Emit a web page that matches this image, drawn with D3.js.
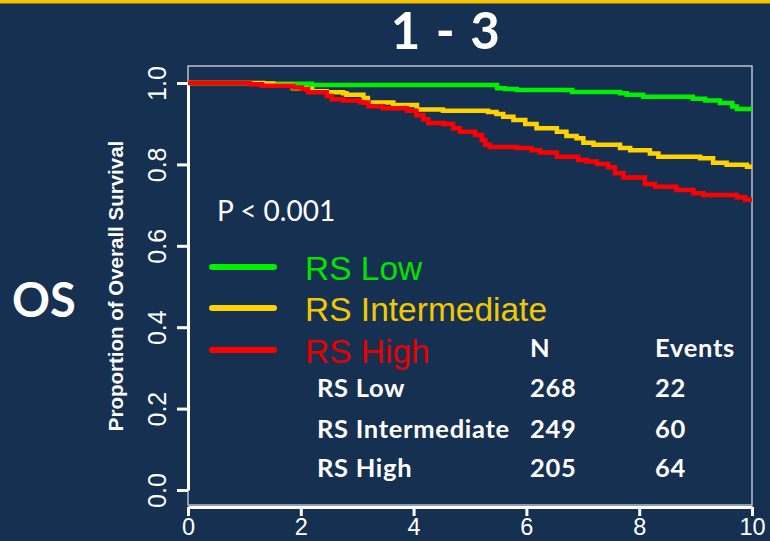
<!DOCTYPE html>
<html>
<head>
<meta charset="utf-8">
<script src="https://cdn.jsdelivr.net/npm/d3@7/dist/d3.min.js"></script>
<style>
  html, body { margin: 0; padding: 0; background: #163052; }
  svg { display: block; }
</style>
</head>
<body>
<svg id="chart" width="770" height="541"></svg>
<script>
// Kaplan-Meier overall survival, by recurrence-score group (years of follow-up)
const groups = ["RS Low", "RS Intermediate", "RS High"];
const groupColors = ["#00f000", "#ffd200", "#ff0000"];
const legendTextColors = ["#00e400", "#f2c800", "#e80000"];

const lowTime = [0, 1.1, 2.2, 5.48, 5.62, 5.83, 6.81, 7.66, 7.78, 8.07, 8.95, 9.17, 9.43, 9.65, 9.73, 10];
const lowSurv = [1, 0.998, 0.995, 0.987, 0.985, 0.983, 0.978, 0.975, 0.971, 0.966, 0.961, 0.957, 0.951, 0.942, 0.936, 0.936];

const intTime = [0, 1.33, 1.51, 1.86, 2.11, 2.2, 2.46, 2.75, 2.81, 3.11, 3.19, 3.64, 4.06, 4.52,
  5.32, 5.47, 5.59, 5.77, 5.98, 6.18, 6.54, 6.71, 6.89, 7.01, 7.19, 7.66, 7.84, 8.19, 8.34, 9.08, 9.31, 9.55, 9.91, 10];
const intSurv = [1, 0.999, 0.995, 0.987, 0.985, 0.980, 0.977, 0.975, 0.971, 0.963, 0.952, 0.946, 0.935, 0.932,
  0.929, 0.924, 0.917, 0.909, 0.899, 0.889, 0.880, 0.870, 0.864, 0.853, 0.848, 0.840, 0.835, 0.827, 0.819, 0.815, 0.804, 0.799, 0.794, 0.794];

const highTime = [0, 1.10, 1.31, 1.87, 2.02, 2.13, 2.46, 2.55, 2.75, 3.05, 3.20, 3.46, 3.88, 4.05, 4.17, 4.26, 4.53, 4.70, 4.82,
  5.09, 5.21, 5.27, 5.35, 5.83, 6.09, 6.24, 6.54, 6.92, 7.07, 7.25, 7.45, 7.57, 7.72, 8.10, 8.28, 8.66, 8.96, 9.14, 9.73, 9.88, 10];
const highSurv = [1, 0.997, 0.993, 0.989, 0.985, 0.977, 0.968, 0.960, 0.957, 0.952, 0.943, 0.938, 0.932, 0.921, 0.911, 0.902, 0.899, 0.889, 0.880,
  0.872, 0.860, 0.848, 0.843, 0.840, 0.835, 0.829, 0.819, 0.811, 0.807, 0.801, 0.793, 0.778, 0.768, 0.752, 0.745, 0.737, 0.729, 0.725, 0.719, 0.713, 0.713];

const nAtRisk = [268, 249, 205];
const events = [22, 60, 64];
const xTicks = [0, 2, 4, 6, 8, 10];
const yTicks = [0, 0.2, 0.4, 0.6, 0.8, 1.0];

const svg = d3.select("#chart");
const W = 770, H = 541;

svg.append("rect").attr("width", W).attr("height", H).attr("fill", "#163052");
svg.append("rect").attr("width", W).attr("height", 3.5).attr("fill", "#f7c200");

const x = d3.scaleLinear().domain([0, 10]).range([188, 752]);
const y = d3.scaleLinear().domain([0, 1]).range([490, 83]);

// plot frame
svg.append("rect")
  .attr("x", 188).attr("y", 66)
  .attr("width", 752 - 188).attr("height", 505 - 66)
  .attr("fill", "none").attr("stroke", "#b9c1cd").attr("stroke-width", 1.5);

// axes
const axisFont = (sel, size) => sel.attr("fill", "#fff")
  .style("font-family", "'Liberation Sans', Arial, sans-serif")
  .style("font-size", size);

const yAxis = svg.append("g")
  .attr("transform", "translate(188,0)")
  .call(d3.axisLeft(y).tickValues(yTicks).tickFormat(d3.format(".1f")).tickSize(11).tickSizeOuter(0));
yAxis.select(".domain").attr("stroke", "#fff").attr("stroke-width", 3);
yAxis.selectAll(".tick line").attr("stroke", "#fff").attr("stroke-width", 3);
yAxis.selectAll(".tick text")
  .attr("x", 0).attr("y", -22).attr("dy", 0)
  .attr("transform", "rotate(-90)")
  .attr("text-anchor", "middle")
  .call(axisFont, "25px");

const xAxis = svg.append("g")
  .attr("transform", "translate(0,507)")
  .call(d3.axisBottom(x).tickValues(xTicks).tickFormat(d3.format("d")).tickSize(9).tickSizeOuter(0));
xAxis.select(".domain").attr("stroke", "#fff").attr("stroke-width", 3);
xAxis.selectAll(".tick line").attr("stroke", "#fff").attr("stroke-width", 3);
xAxis.selectAll(".tick text")
  .attr("y", 28).attr("dy", 0)
  .call(axisFont, "23.5px");

// survival curves
const series = [
  { t: lowTime, s: lowSurv },
  { t: intTime, s: intSurv },
  { t: highTime, s: highSurv }
];
const line = d3.line()
  .x(d => x(d[0]))
  .y(d => y(d[1]))
  .curve(d3.curveStepAfter);

series.forEach((ser, i) => {
  const pts = ser.t.map((t, j) => [t, ser.s[j]]);
  svg.append("path")
    .attr("d", line(pts))
    .attr("fill", "none")
    .attr("stroke", groupColors[i])
    .attr("stroke-width", 4.5)
    .attr("stroke-linejoin", "miter");
});

// titles
svg.append("text")
  .attr("x", 446).attr("y", 49)
  .attr("text-anchor", "middle")
  .attr("fill", "#fff")
  .style("font-family", "Lato, sans-serif").style("font-weight", 700).style("font-size", "51px")
  .style("letter-spacing", "1.5px")
  .text("1 - 3");

svg.append("text")
  .attr("x", 44).attr("y", 317)
  .attr("text-anchor", "middle")
  .attr("fill", "#fff")
  .style("font-family", "Lato, sans-serif").style("font-weight", 700).style("font-size", "47px")
  .text("OS");

svg.append("text")
  .attr("transform", "translate(123,286) rotate(-90)")
  .attr("text-anchor", "middle")
  .attr("fill", "#fff")
  .style("font-family", "'Liberation Sans', Arial, sans-serif").style("font-weight", 700).style("font-size", "20.5px")
  .text("Proportion of Overall Survival");

svg.append("text")
  .attr("x", 217).attr("y", 221)
  .attr("fill", "#fff")
  .style("font-family", "Lato, sans-serif").style("font-size", "28px")
  .text("P < 0.001");

// legend
const legendY = [267, 308, 350];
groups.forEach((g, i) => {
  svg.append("line")
    .attr("x1", 212).attr("x2", 274)
    .attr("y1", legendY[i]).attr("y2", legendY[i])
    .attr("stroke", groupColors[i]).attr("stroke-width", 6).attr("stroke-linecap", "round");
  svg.append("text")
    .attr("x", 305).attr("y", legendY[i] + 13)
    .attr("fill", legendTextColors[i])
    .style("font-family", "'Liberation Sans', Arial, sans-serif").style("font-size", "33.5px")
    .text(g);
});

// counts table
const tableFont = sel => sel.attr("fill", "#fff")
  .style("font-family", "Lato, sans-serif").style("font-weight", 700).style("font-size", "25.5px")
  .style("letter-spacing", "0.7px");
svg.append("text").attr("x", 530).attr("y", 357).text("N").call(tableFont);
svg.append("text").attr("x", 655).attr("y", 357).text("Events").call(tableFont);
const rowY = [397, 438, 477];
groups.forEach((g, i) => {
  svg.append("text").attr("x", 317).attr("y", rowY[i]).text(g).call(tableFont);
  svg.append("text").attr("x", 530).attr("y", rowY[i]).text(nAtRisk[i]).call(tableFont);
  svg.append("text").attr("x", 655).attr("y", rowY[i]).text(events[i]).call(tableFont);
});
</script>
</body>
</html>
